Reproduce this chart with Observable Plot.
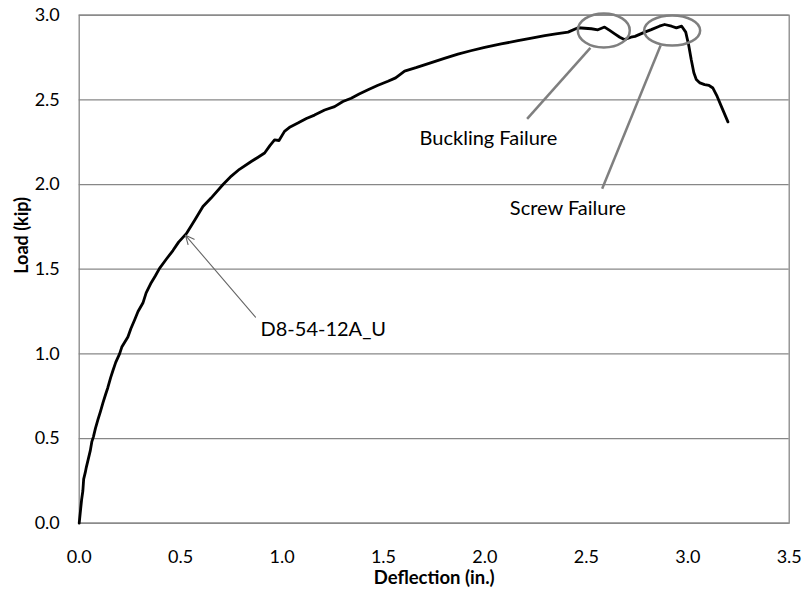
<!DOCTYPE html>
<html>
<head>
<meta charset="utf-8">
<script src="https://cdn.jsdelivr.net/npm/d3@7"></script>
<script src="https://cdn.jsdelivr.net/npm/@observablehq/plot@0.6"></script>
<style>
  html, body { margin: 0; padding: 0; background: #fff; }
</style>
</head>
<body>
<div id="chart"></div>
<script>
// ---- Data ----
const deflection = [
  0, 0.005, 0.012, 0.018, 0.022, 0.030, 0.035, 0.045, 0.055, 0.062,
  0.070, 0.080, 0.092, 0.105, 0.117, 0.130, 0.141, 0.155, 0.166, 0.180,
  0.199, 0.210, 0.240, 0.255, 0.273, 0.290, 0.314, 0.330, 0.355, 0.375,
  0.396, 0.430, 0.462, 0.490, 0.528, 0.570, 0.610, 0.650, 0.709, 0.750,
  0.790, 0.848, 0.880, 0.914, 0.940, 0.963, 0.985, 1.012, 1.040, 1.078,
  1.120, 1.160, 1.210, 1.259, 1.300, 1.341, 1.380, 1.424, 1.470, 1.522,
  1.560, 1.604, 1.660, 1.736, 1.800, 1.867, 1.930, 1.999, 2.080, 2.163,
  2.230, 2.295, 2.350, 2.410, 2.459, 2.525, 2.557, 2.590, 2.615, 2.640,
  2.665, 2.687, 2.720, 2.740, 2.788, 2.820, 2.860, 2.886, 2.920, 2.944,
  2.970, 2.990, 3.005, 3.017, 3.030, 3.042, 3.060, 3.083, 3.105, 3.124,
  3.145, 3.166, 3.198
];
const load = [
  0, 0.06, 0.14, 0.19, 0.26, 0.30, 0.33, 0.38, 0.43, 0.48,
  0.51, 0.56, 0.61, 0.66, 0.71, 0.76, 0.80, 0.86, 0.90, 0.95,
  1.00, 1.04, 1.10, 1.15, 1.20, 1.25, 1.30, 1.36, 1.42, 1.46,
  1.505, 1.56, 1.61, 1.66, 1.71, 1.79, 1.87, 1.92, 2.00, 2.05,
  2.09, 2.136, 2.16, 2.186, 2.23, 2.264, 2.26, 2.314, 2.34, 2.363,
  2.39, 2.41, 2.44, 2.46, 2.49, 2.51, 2.535, 2.56, 2.585, 2.61,
  2.63, 2.67, 2.69, 2.72, 2.745, 2.77, 2.79, 2.81, 2.83, 2.85,
  2.865, 2.88, 2.89, 2.90, 2.926, 2.92, 2.914, 2.93, 2.91, 2.89,
  2.87, 2.856, 2.87, 2.875, 2.90, 2.915, 2.935, 2.945, 2.935, 2.925,
  2.935, 2.90, 2.82, 2.738, 2.66, 2.62, 2.60, 2.59, 2.585, 2.57,
  2.52, 2.46, 2.37
];

const xTicks = [0, 0.5, 1.0, 1.5, 2.0, 2.5, 3.0, 3.5];
const yTicks = [0, 0.5, 1.0, 1.5, 2.0, 2.5, 3.0];
const xTitle = "Deflection (in.)";
const yTitle = "Load (kip)";

// annotation texts
const noteText = ["Buckling Failure", "Screw Failure", "D8-54-12A_U"];
const noteX = [1.678, 2.123, 0.894];
const noteY = [2.274, 1.855, 1.146];

// failure ellipses (centres)
const ellipseName = ["Buckling", "Screw"];
const ellipseX = [2.586, 2.923];
const ellipseY = [2.910, 2.910];

// leader lines from ellipses to texts
const leaderX1 = [2.520, 2.866];
const leaderY1 = [2.807, 2.821];
const leaderX2 = [2.208, 2.578];
const leaderY2 = [2.388, 1.975];

// arrow pointing to the curve
const arrowX1 = [0.869];
const arrowY1 = [1.217];
const arrowX2 = [0.524];
const arrowY2 = [1.700];

// ---- Build tables ----
const curve = deflection.map((d, i) => ({deflection: d, load: load[i]}));
const notes = noteText.map((t, i) => ({text: t, x: noteX[i], y: noteY[i]}));
const ellipses = ellipseName.map((n, i) => ({name: n, x: ellipseX[i], y: ellipseY[i]}));
const leaders = leaderX1.map((d, i) => ({x1: d, y1: leaderY1[i], x2: leaderX2[i], y2: leaderY2[i]}));
const arrows = arrowX1.map((d, i) => ({x1: d, y1: arrowY1[i], x2: arrowX2[i], y2: arrowY2[i]}));

function ellipseSymbol(rx, ry) {
  const k = 0.5523;
  return {
    draw(context) {
      context.moveTo(rx, 0);
      context.bezierCurveTo(rx, ry * k, rx * k, ry, 0, ry);
      context.bezierCurveTo(-rx * k, ry, -rx, ry * k, -rx, 0);
      context.bezierCurveTo(-rx, -ry * k, -rx * k, -ry, 0, -ry);
      context.bezierCurveTo(rx * k, -ry, rx, -ry * k, rx, 0);
      context.closePath();
    }
  };
}

const gray = "#878787";
const annoGray = "#7f7f7f";
const font = "Lato, 'Open Sans', sans-serif";

const chart = Plot.plot({
  width: 803,
  height: 595,
  marginLeft: 78.7,
  marginRight: 14.3,
  marginTop: 14.7,
  marginBottom: 72.3,
  style: {fontFamily: font, fontSize: "18px", background: "#fff", color: "#000"},
  x: {domain: [0, 3.5]},
  y: {domain: [0, 3]},
  marks: [
    Plot.gridY(yTicks, {stroke: gray, strokeOpacity: 1, strokeWidth: 1.3}),
    Plot.frame({stroke: gray, strokeWidth: 1.3}),
    Plot.axisX(xTicks, {tickSize: 0, tickPadding: 27, tickFormat: d3.format(".1f"), label: null, fontSize: 18, fill: "#000"}),
    Plot.axisY(yTicks, {tickSize: 0, tickPadding: 19.4, tickFormat: d3.format(".1f"), label: null, fontSize: 18, fill: "#000"}),
    Plot.text([xTitle], {text: d => d, frameAnchor: "bottom", dy: 61, fontWeight: "bold", fontSize: 18.5, fill: "#000"}),
    Plot.text([yTitle], {text: d => d, frameAnchor: "left", dx: -56.7, dy: 4.6, rotate: -90, fontWeight: "bold", fontSize: 18, fill: "#000"}),
    Plot.line(curve, {x: "deflection", y: "load", stroke: "#000", strokeWidth: 2.8, strokeLinejoin: "round"}),
    Plot.dot(ellipses.filter(d => d.name === "Buckling"), {x: "x", y: "y", symbol: ellipseSymbol(26, 17), fill: "none", stroke: annoGray, strokeWidth: 2.5}),
    Plot.dot(ellipses.filter(d => d.name === "Screw"), {x: "x", y: "y", symbol: ellipseSymbol(28, 15), fill: "none", stroke: annoGray, strokeWidth: 2.5}),
    Plot.link(leaders, {x1: "x1", y1: "y1", x2: "x2", y2: "y2", stroke: annoGray, strokeWidth: 2.5}),
    Plot.arrow(arrows, {x1: "x1", y1: "y1", x2: "x2", y2: "y2", stroke: "#666", strokeWidth: 1.1, headLength: 13, headAngle: 50}),
    Plot.text(notes, {x: "x", y: "y", text: "text", textAnchor: "start", fontSize: 20, fill: "#000"})
  ]
});

document.getElementById("chart").appendChild(chart);
</script>
</body>
</html>
